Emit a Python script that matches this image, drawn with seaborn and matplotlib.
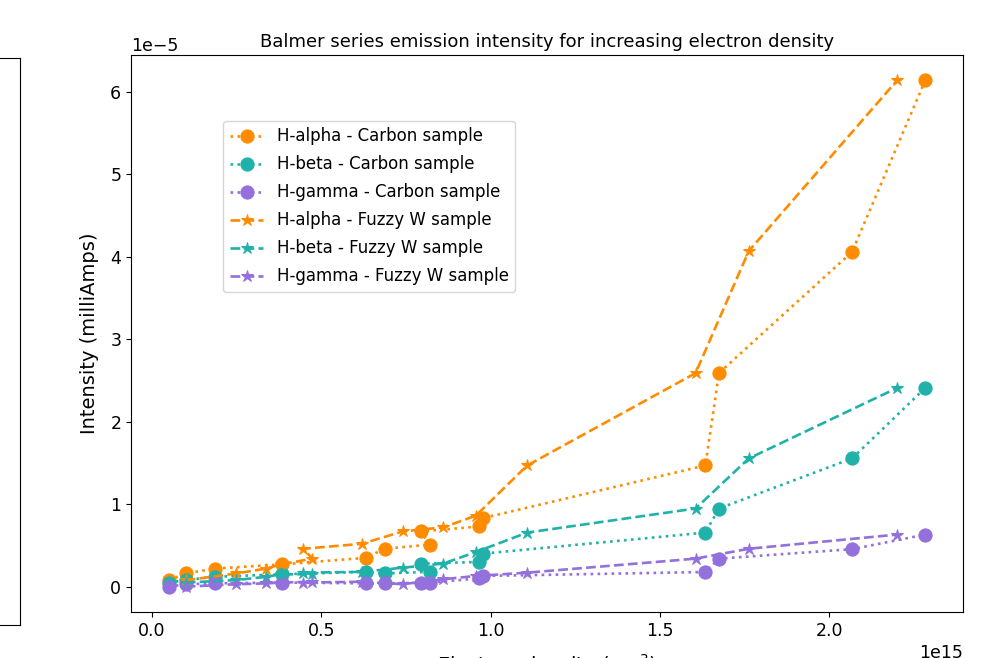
import matplotlib
matplotlib.use("Agg")
import matplotlib.pyplot as plt
import seaborn as sns

# electron density (x 1e15 m^-3) for each sample
carbon_density = [0.05, 0.10, 0.186, 0.383, 0.631, 0.687, 0.82, 0.794, 0.965, 0.976, 1.634, 1.674, 2.067, 2.283]
fuzzy_density = [0.10, 0.248, 0.338, 0.38, 0.474, 0.447, 0.62, 0.74, 0.86, 0.956, 1.108, 1.605, 1.762, 2.20]

# intensities (x 1e-5 milliAmps)
alpha_carbon = [0.077, 0.16, 0.22, 0.27, 0.35, 0.46, 0.51, 0.67, 0.73, 0.83, 1.47, 2.59, 4.06, 6.14]
beta_carbon = [0.05, 0.08, 0.12, 0.15, 0.18, 0.16, 0.18, 0.28, 0.30, 0.40, 0.656, 0.948, 1.555, 2.41]
gamma_carbon = [0.0, 0.03, 0.04, 0.05, 0.04, 0.04, 0.05, 0.04, 0.10, 0.13, 0.178, 0.34, 0.455, 0.632]

alpha_fuzzy = [0.077, 0.16, 0.22, 0.27, 0.34, 0.46, 0.52, 0.67, 0.72, 0.86, 1.47, 2.59, 4.07, 6.14]
beta_fuzzy = [0.05, 0.08, 0.12, 0.15, 0.15, 0.17, 0.18, 0.23, 0.28, 0.42, 0.656, 0.948, 1.555, 2.41]
gamma_fuzzy = [0.0, 0.03, 0.04, 0.05, 0.06, 0.05, 0.06, 0.03, 0.09, 0.13, 0.17, 0.34, 0.46, 0.632]

lines = ['H-alpha', 'H-beta', 'H-gamma']
colors = ['darkorange', 'lightseagreen', 'mediumpurple']

fig = plt.figure(figsize=(9.91, 6.58), dpi=100)

# edge of the neighbouring subplot, only its right side is in view
ax_left = fig.add_axes([-0.3, 0.050, 0.3202, 0.862])
ax_left.set_xticks([])
ax_left.set_yticks([])

ax = fig.add_axes([0.1322, 0.0699, 0.8396, 0.8465])

carbon = [alpha_carbon, beta_carbon, gamma_carbon]
fuzzy = [alpha_fuzzy, beta_fuzzy, gamma_fuzzy]

for name, ys, c in zip(lines, carbon, colors):
    sns.lineplot(x=[d * 1e15 for d in carbon_density], y=[v * 1e-5 for v in ys],
                 ax=ax, sort=False, estimator=None, color=c, linestyle=':',
                 marker='o', markersize=9.5, markeredgecolor=c, linewidth=1.9,
                 label=name + ' - Carbon sample')

for name, ys, c in zip(lines, fuzzy, colors):
    sns.lineplot(x=[d * 1e15 for d in fuzzy_density], y=[v * 1e-5 for v in ys],
                 ax=ax, sort=False, estimator=None, color=c, linestyle='--',
                 marker='*', markersize=9, markeredgecolor=c, linewidth=1.9,
                 label=name + ' - Fuzzy W sample')

ax.set_title('Balmer series emission intensity for increasing electron density', fontsize=13)
ax.set_ylabel('Intensity (milliAmps)', fontsize=14, labelpad=8)
ax.set_xlabel('Electron density (m$^{-3}$)', fontsize=14, labelpad=9)
ax.tick_params(labelsize=12.5)
ax.xaxis.get_offset_text().set_fontsize(12.5)
ax.yaxis.get_offset_text().set_fontsize(12.5)

ax.legend(loc='upper left', bbox_to_anchor=(0.101, 0.897), fontsize=12, labelspacing=0.6)

fig.savefig('out.png', dpi=100)
